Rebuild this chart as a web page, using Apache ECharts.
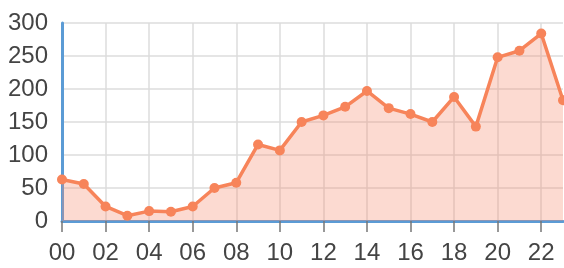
<!DOCTYPE html>
<html>
<head>
<meta charset="utf-8">
<script src="https://cdn.jsdelivr.net/npm/echarts@6/dist/echarts.min.js"></script>
<style>
  html, body { margin: 0; padding: 0; background: #fff; }
  #main { width: 564px; height: 268px; }
</style>
</head>
<body>
<div id="main"></div>
<script>
// 小时
const hours = ['00', '01', '02', '03', '04', '05', '06', '07', '08', '09', '10', '11',
  '12', '13', '14', '15', '16', '17', '18', '19', '20', '21', '22', '23']
// 数值
const values = [63, 56, 22, 8, 15, 14, 22, 50, 58, 116, 107, 150,
  160, 173, 197, 171, 162, 150, 188, 143, 248, 258, 284, 183]
// y轴刻度
const yMin = 0
const yMax = 300
const yStep = 50

const labelFont = '"Liberation Sans Narrow", "Liberation Sans", sans-serif'

const myChart = echarts.init(document.getElementById('main'), null, { renderer: 'canvas' })

const option = {
  animation: false,
  grid: { left: 62, right: 1, top: 23, bottom: 47 },
  xAxis: {
    type: 'category',
    data: hours,
    boundaryGap: false,
    axisLine: { lineStyle: { color: '#5b9bd5', width: 3 } },
    axisTick: { show: true, interval: 1, length: 11, lineStyle: { color: '#777', width: 1.5 } },
    axisLabel: { interval: 1, color: '#444', fontSize: 24, fontFamily: labelFont, margin: 20 },
    splitLine: { show: true, interval: 1, lineStyle: { color: '#dcdcdc', width: 1.5 } }
  },
  yAxis: {
    type: 'value',
    min: yMin,
    max: yMax,
    interval: yStep,
    axisLine: { show: true, lineStyle: { color: '#5b9bd5', width: 3 } },
    axisTick: { show: false },
    axisLabel: { color: '#444', fontSize: 24, fontFamily: labelFont, margin: 14 },
    splitLine: { lineStyle: { color: '#dcdcdc', width: 1.5 } }
  },
  series: [
    {
      type: 'line',
      data: values,
      symbol: 'circle',
      symbolSize: 10,
      itemStyle: { color: '#f7845a' },
      lineStyle: { color: '#f7845a', width: 3.5 },
      areaStyle: { color: 'rgba(247, 140, 110, 0.45)' }
    }
  ]
}

option && myChart.setOption(option)
</script>
</body>
</html>
